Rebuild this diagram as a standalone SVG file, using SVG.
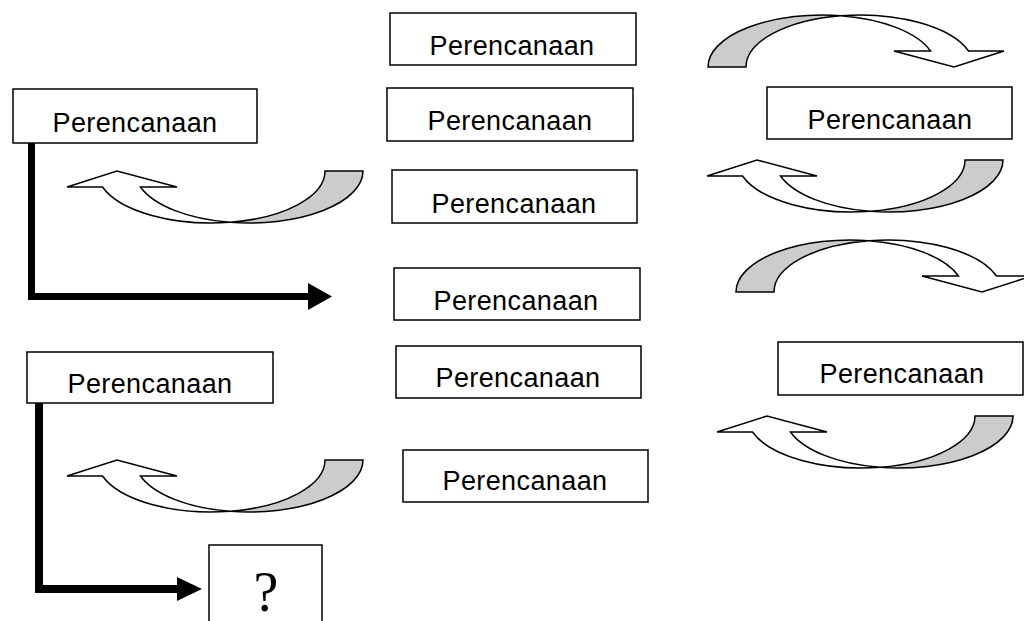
<svg xmlns="http://www.w3.org/2000/svg" xmlns:xlink="http://www.w3.org/1999/xlink" width="1024" height="621" viewBox="0 0 1024 621">
<style>
.box{fill:#fff;stroke:#000;stroke-width:1.5}
.lbl{font-family:"Liberation Sans",Arial,sans-serif;font-size:27px;letter-spacing:0.4px;fill:#000;text-anchor:middle}
.front{fill:#fff;stroke:#000;stroke-width:1.5;stroke-linejoin:miter}
.back{fill:#cccccc;stroke:#000;stroke-width:1.5}
.conn{fill:none;stroke:#000;stroke-width:7}
</style>
<defs>
<g id="curvedUp">
<path class="back" d="M163,51.27 A114 52 0 0 0 258,0 L296,0 A114 52 0 0 1 163,51.27 Z"/>
<path class="front" d="M0,16 L50,0 L110,16 L73.5,16 A114 52 0 0 0 163,51.27 A114 52 0 0 1 35.5,16 Z"/>
</g>
</defs>
<rect width="1024" height="621" fill="#fff"/>
<g id="connectors">
<path class="conn" d="M31.5,143 V296.5 H310"/>
<polygon points="308,283 332,296.5 308,310" fill="#000"/>
<path class="conn" d="M39,403 V589 H180" style="stroke-width:8"/>
<polygon points="177,577 202,589 177,601" fill="#000"/>
<use xlink:href="#curvedUp" transform="translate(67,171)"/>
<use xlink:href="#curvedUp" transform="translate(67,460)"/>
<use xlink:href="#curvedUp" transform="translate(707,160)"/>
<use xlink:href="#curvedUp" transform="translate(717,416)"/>
<use xlink:href="#curvedUp" transform="translate(1004,67) rotate(180)"/>
<use xlink:href="#curvedUp" transform="translate(1032,292) rotate(180)"/>
</g>
<g id="n1"><rect class="box" x="390" y="13" width="246" height="52"/><text class="lbl" x="512" y="55">Perencanaan</text></g>
<g id="n2"><rect class="box" x="387" y="88" width="246" height="53"/><text class="lbl" x="510" y="130">Perencanaan</text></g>
<g id="n3"><rect class="box" x="392" y="170" width="245" height="53"/><text class="lbl" x="514" y="213">Perencanaan</text></g>
<g id="n4"><rect class="box" x="394" y="268" width="246" height="52"/><text class="lbl" x="516" y="310">Perencanaan</text></g>
<g id="n5"><rect class="box" x="396" y="346" width="245" height="52"/><text class="lbl" x="518" y="387">Perencanaan</text></g>
<g id="n6"><rect class="box" x="403" y="450" width="245" height="52"/><text class="lbl" x="525" y="490">Perencanaan</text></g>
<g id="n7"><rect class="box" x="13" y="89" width="244" height="54"/><text class="lbl" x="135" y="132">Perencanaan</text></g>
<g id="n8"><rect class="box" x="27" y="352" width="246" height="51"/><text class="lbl" x="150" y="393">Perencanaan</text></g>
<g id="n9"><rect class="box" x="767" y="87" width="245" height="52"/><text class="lbl" x="890" y="129">Perencanaan</text></g>
<g id="n10"><rect class="box" x="778" y="342" width="245" height="53"/><text class="lbl" x="902" y="383">Perencanaan</text></g>
<g id="n11"><rect class="box" x="209" y="545" width="113" height="100"/><text x="266" y="611" style="font-family:'Liberation Serif','Times New Roman',serif;font-size:56px;text-anchor:middle">?</text></g>
</svg>
